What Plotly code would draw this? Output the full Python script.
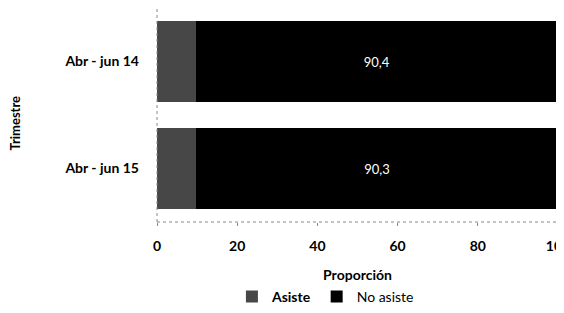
import plotly.graph_objects as go

categories = ["Abr - jun 14", "Abr - jun 15"]
asiste = [9.6, 9.7]
no_asiste = [90.4, 90.3]
no_asiste_labels = ["90,4", "90,3"]
x_ticks = [0, 20, 40, 60, 80, 100]

FONT = "Lato, 'Open Sans', sans-serif"

fig = go.Figure()
fig.add_trace(go.Bar(
    y=categories, x=asiste, orientation="h", name="<b>Asiste</b>",
    marker=dict(color="#474747", line=dict(width=0)),
))
fig.add_trace(go.Bar(
    y=categories, x=no_asiste, orientation="h", name="No asiste",
    marker=dict(color="#000000", line=dict(width=0)),
    text=no_asiste_labels, textposition="inside", insidetextanchor="middle",
    textfont=dict(color="white", size=13, family=FONT),
))

fig.update_layout(
    barmode="stack",
    bargap=0.24,
    width=556, height=305,
    margin=dict(l=149, r=6, t=0, b=91, autoexpand=False),
    paper_bgcolor="white", plot_bgcolor="white",
    font=dict(family=FONT, color="black"),
    showlegend=True,
    legend=dict(orientation="h", x=0.42, xanchor="center", y=-0.35, yanchor="middle",
                font=dict(size=14, family=FONT, color="black"), traceorder="normal",
                itemwidth=30),
    xaxis=dict(
        range=[0, 100], tickvals=x_ticks, ticktext=[f"<b>{v}</b>" for v in x_ticks],
        showgrid=False, zeroline=False, showline=False, automargin=False,
        ticks="outside", ticklen=3, tickcolor="#888", ticklabeloverflow="allow",
        tickfont=dict(size=14, family=FONT), ticklabelstandoff=8,
        title=dict(text="<b>Proporción</b>", font=dict(size=14, family=FONT), standoff=17),
    ),
    yaxis=dict(
        categoryorder="array", categoryarray=categories[::-1],
        showgrid=False, zeroline=False, showline=False, automargin=False,
        tickvals=categories, ticktext=[f"<b>{c}</b>" for c in categories],
        tickfont=dict(size=14, family=FONT), ticklabelstandoff=17,
    ),
    shapes=[
        dict(type="line", xref="paper", yref="paper", x0=0, x1=1, y0=0, y1=0,
             line=dict(color="#888", width=1, dash="dot")),
        dict(type="line", xref="paper", yref="paper", x0=0, x1=0, y0=0, y1=1,
             line=dict(color="#888", width=1, dash="dot")),
    ],
    annotations=[
        dict(text="<b>Trimestre</b>", textangle=-90, xref="paper", yref="paper",
             x=(7 - 149) / 401, y=0.46, xanchor="center", yanchor="middle",
             showarrow=False, font=dict(size=13, family=FONT)),
    ],
)

fig.write_html("out.html")
